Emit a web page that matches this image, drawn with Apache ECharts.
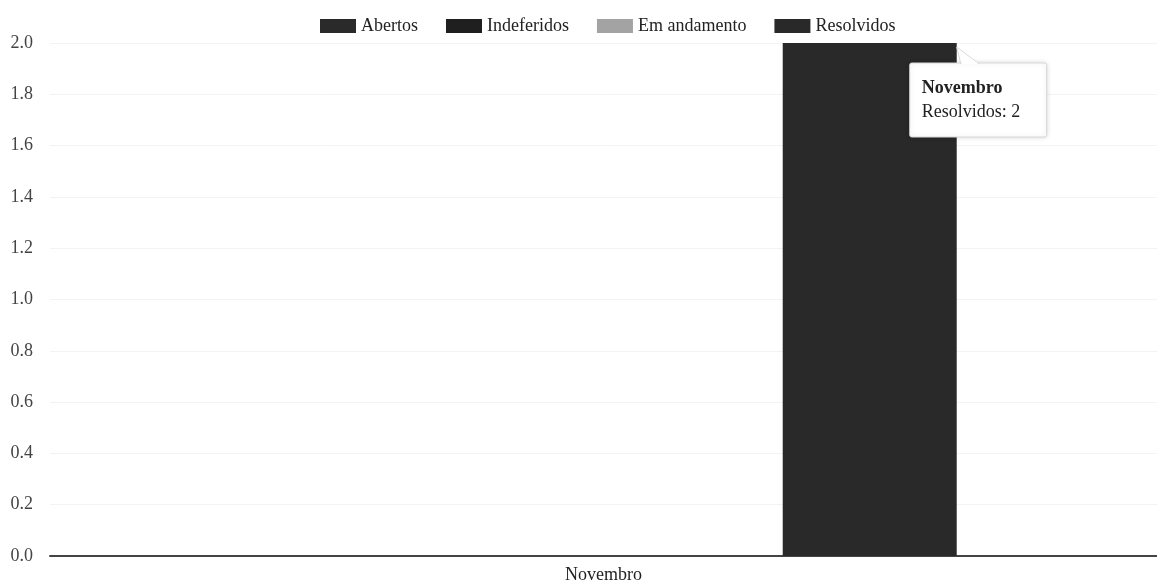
<!DOCTYPE html>
<html><head><meta charset="utf-8">
<script src="https://cdn.jsdelivr.net/npm/echarts@6/dist/echarts.min.js"></script>
<style>html,body{margin:0;padding:0;background:#fff}#c{width:1157px;height:585px}</style>
</head><body><div id="c"></div>
<script>
var categories = ['Novembro'];
var seriesNames = ['Abertos', 'Indeferidos', 'Em andamento', 'Resolvidos'];
var abertos = [0];
var indeferidos = [0];
var emAndamento = [0];
var resolvidos = [2];
var yTicks = [0, 0.2, 0.4, 0.6, 0.8, 1.0, 1.2, 1.4, 1.6, 1.8, 2.0];

var colors = ['#2a2a2a', '#1f1f1f', '#a3a3a3', '#292929'];
var font = '"Liberation Serif", "Times New Roman", "DejaVu Serif", serif';
var chart = echarts.init(document.getElementById('c'));
var values = [abertos, indeferidos, emAndamento, resolvidos];
var series = seriesNames.map(function (n, i) {
  return { name: n, type: 'bar', data: values[i], barWidth: 174, barGap: '2%', itemStyle: { color: colors[i] } };
});
chart.setOption({
  animation: false,
  textStyle: { fontFamily: font },
  legend: {
    top: 12, left: 315, itemWidth: 36, itemHeight: 14, itemGap: 28,
    icon: 'rect',
    textStyle: { fontFamily: font, fontSize: 18, color: '#222' },
    data: seriesNames
  },
  grid: { left: 50, right: 0, top: 43, bottom: 29 },
  xAxis: {
    type: 'category', data: categories,
    axisLine: { lineStyle: { color: '#444', width: 2 } },
    axisTick: { show: false },
    axisLabel: { fontFamily: font, fontSize: 18, color: '#222', margin: 10 }
  },
  yAxis: {
    type: 'value', min: yTicks[0], max: yTicks[yTicks.length - 1], interval: 0.2,
    axisLabel: { fontFamily: font, fontSize: 18, color: '#444', margin: 17,
      formatter: function (v) { return v.toFixed(1); } },
    splitLine: { lineStyle: { color: '#f3f3f3' } },
    axisLine: { show: false }, axisTick: { show: false }
  },
  series: series
});

// tooltip-like callout anchored to the Resolvidos bar
var barRight, barTop;
try {
  var lay = chart.getModel().getSeriesByIndex(3).getData().getItemLayout(0);
  barRight = lay.x + lay.width;
  barTop = Math.min(lay.y, lay.y + lay.height);
} catch (e) {
  var p = chart.convertToPixel({ seriesIndex: 3 }, [0, resolvidos[0]]);
  barRight = p[0] + 354; barTop = p[1];
}
var bx = barRight - 47, by = barTop + 20;
chart.setOption({
  graphic: [
    { type: 'rect', shape: { x: bx, y: by, width: 137, height: 74, r: 2 },
      style: { fill: '#fff', stroke: '#d8d8d8', lineWidth: 1, shadowBlur: 5, shadowColor: 'rgba(0,0,0,0.15)' }, z: 101 },
    { type: 'polygon', shape: { points: [[barRight, barTop + 4], [barRight + 4, by + 0.5], [barRight + 22, by + 0.5]] },
      style: { fill: '#fff', stroke: '#d8d8d8', lineWidth: 1 }, z: 102 },
    { type: 'rect', shape: { x: barRight + 5, y: by - 0.5, width: 16, height: 2 }, style: { fill: '#fff' }, z: 103 },
    { type: 'text', x: bx + 12, y: by + 25,
      style: { text: categories[0], fontFamily: font, fontWeight: 'bold', fontSize: 18, fill: '#222', verticalAlign: 'middle' }, z: 104 },
    { type: 'text', x: bx + 12, y: by + 49,
      style: { text: seriesNames[3] + ': ' + resolvidos[0], fontFamily: font, fontSize: 18, fill: '#222', verticalAlign: 'middle' }, z: 104 }
  ]
});
</script></body></html>
